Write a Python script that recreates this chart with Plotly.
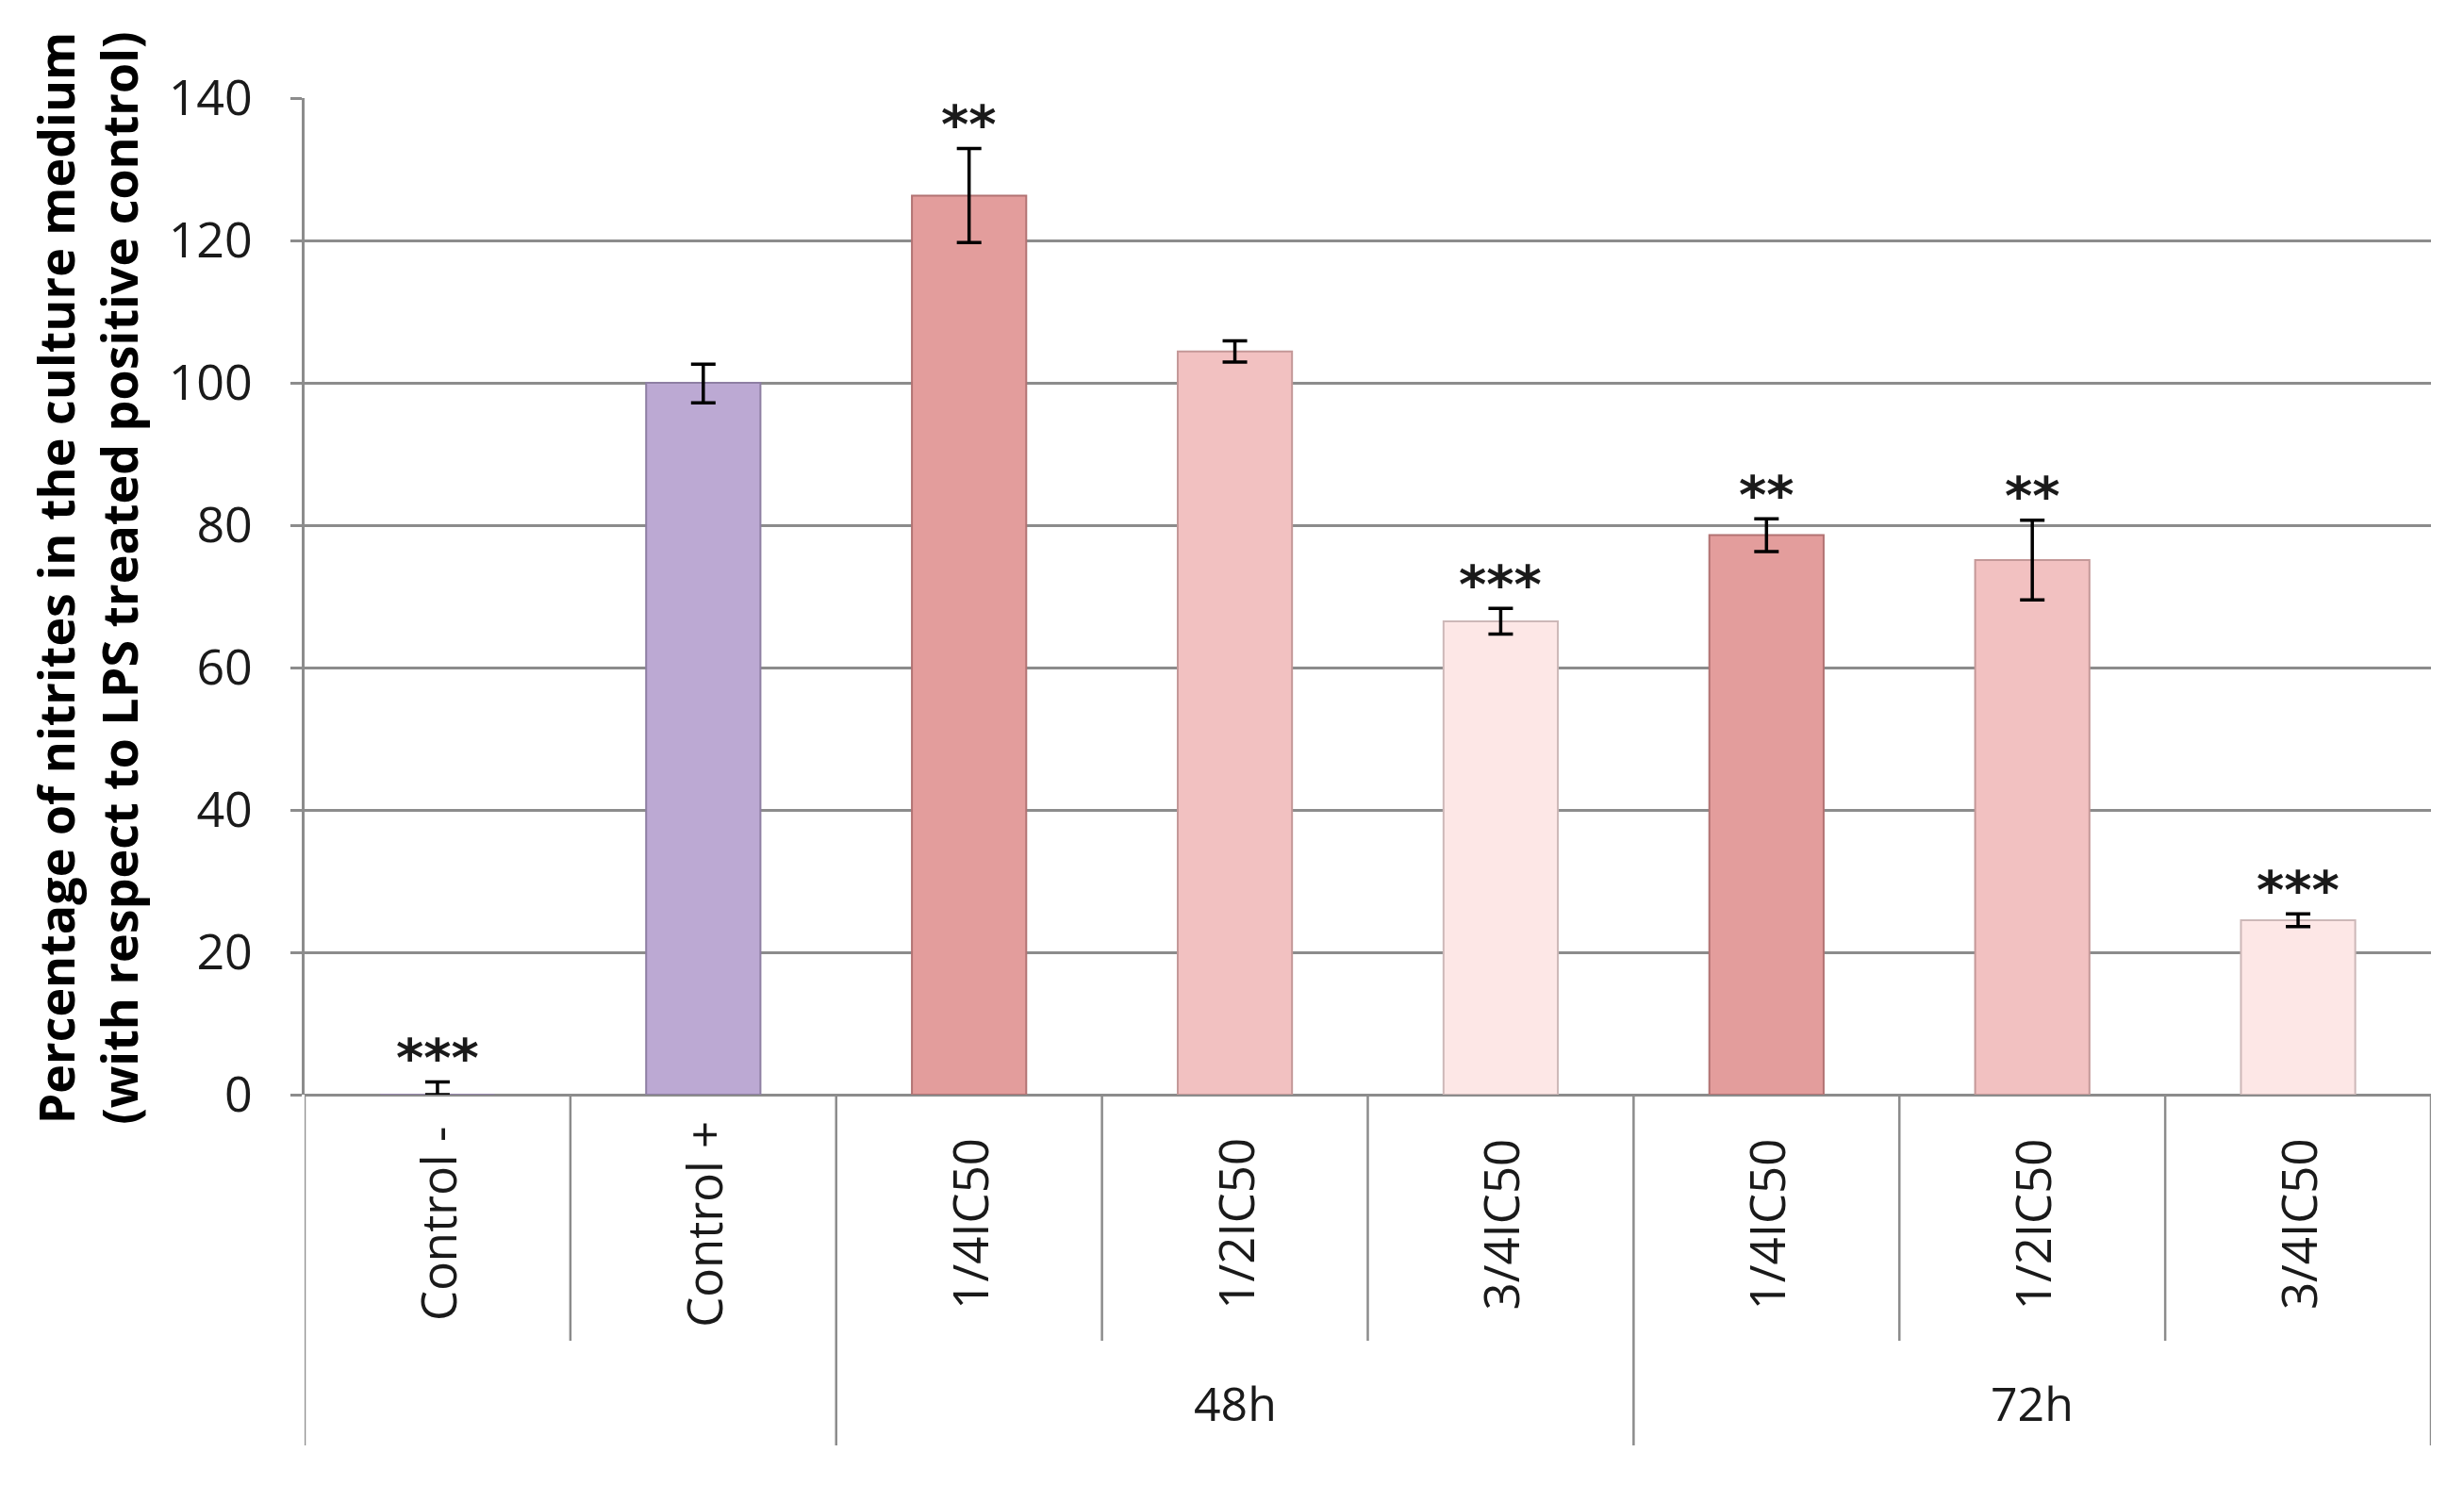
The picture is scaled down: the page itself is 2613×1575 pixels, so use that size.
"""Nitrite percentage bar chart with grouped category axis."""

import plotly.graph_objects as go

CATEGORIES = ["Control -", "Control +", "1/4IC50", "1/2IC50", "3/4IC50", "1/4IC50", "1/2IC50", "3/4IC50"]
GROUPS = ["", "", "48h", "48h", "48h", "72h", "72h", "72h"]
VALUES = [0, 100, 126.3, 104.4, 66.5, 78.6, 75.1, 24.5]
ERR_PLUS = [1.8, 2.6, 6.6, 1.5, 1.8, 2.3, 5.6, 0.9]
ERR_MINUS = [0, 2.8, 6.6, 1.5, 1.8, 2.3, 5.6, 0.9]
STARS = ["***", "", "**", "", "***", "**", "**", "***"]
BAR_COLORS = ["#BCA9D3", "#BCA9D3", "#E39D9C", "#F2C1C1", "#FDE7E6", "#E39D9C", "#F2C1C1", "#FDE7E6"]
EDGE_COLORS = ["#8E7FA3", "#8E7FA3", "#B27373", "#C49898", "#CDB8B8", "#B27373", "#C49898", "#CDB8B8"]
Y_TICKS = [0, 20, 40, 60, 80, 100, 120, 140]

GRID = "#8C8C8C"
NUM_FONT = "Liberation Sans Narrow, Open Sans, sans-serif"
TXT_FONT = "Open Sans, sans-serif"

# the page body adds an 8px margin, so the figure is shrunk by that much
W, H = 2613 - 8, 1575 - 8
M_L, M_R, M_T, M_B = 315, 35, 96, 414
PLOT_H = H - M_T - M_B

positions = list(range(len(CATEGORIES)))

fig = go.Figure(
    go.Bar(
        x=positions,
        y=VALUES,
        width=0.43,
        marker=dict(color=BAR_COLORS, line=dict(color=EDGE_COLORS, width=2)),
        error_y=dict(
            type="data",
            symmetric=False,
            array=ERR_PLUS,
            arrayminus=ERR_MINUS,
            color="black",
            thickness=3.5,
            width=13,
        ),
        hoverinfo="skip",
    )
)


def paper_y(px_below_axis):
    """Convert pixels below the x axis into paper y coordinates."""
    return -px_below_axis / PLOT_H


shapes = []
annotations = []

# category dividers: long ones where the group changes, short ones inside a group
for i in range(len(CATEGORIES) + 1):
    left = GROUPS[i - 1] if i > 0 else None
    right = GROUPS[i] if i < len(GROUPS) else None
    long_line = left is None or right is None or left != right
    shapes.append(
        dict(
            type="line",
            xref="x",
            yref="paper",
            x0=i - 0.5,
            x1=i - 0.5,
            y0=0,
            y1=paper_y(372 if long_line else 261),
            line=dict(color=GRID, width=2.5),
        )
    )

# rotated category labels
for i, label in enumerate(CATEGORIES):
    annotations.append(
        dict(
            text=label,
            x=i,
            y=paper_y(137),
            xref="x",
            yref="paper",
            textangle=-90,
            showarrow=False,
            xanchor="center",
            yanchor="middle",
            font=dict(family=TXT_FONT, size=51, color="#1a1a1a"),
        )
    )

# group labels centred under their categories
seen = []
for g in GROUPS:
    if g and g not in seen:
        seen.append(g)
for g in seen:
    idx = [i for i, name in enumerate(GROUPS) if name == g]
    annotations.append(
        dict(
            text=g,
            x=(idx[0] + idx[-1]) / 2,
            y=paper_y(327),
            xref="x",
            yref="paper",
            showarrow=False,
            xanchor="center",
            yanchor="middle",
            font=dict(family=NUM_FONT, size=50, color="#1a1a1a"),
        )
    )

# significance stars above the error bars
for i, stars in enumerate(STARS):
    if not stars:
        continue
    annotations.append(
        dict(
            text=stars,
            x=i,
            y=VALUES[i] + ERR_PLUS[i],
            xref="x",
            yref="y",
            yshift=26,
            showarrow=False,
            xanchor="center",
            yanchor="middle",
            font=dict(family="DejaVu Sans, sans-serif", size=56, color="#1a1a1a", weight="bold"),
        )
    )

annotations.append(
    dict(
        text="Percentage of nitrites in the culture medium<br>(with respect to LPS treated positive control)",
        x=-0.1023,
        y=0.518,
        xref="paper",
        yref="paper",
        textangle=-90,
        showarrow=False,
        xanchor="center",
        yanchor="middle",
        font=dict(family=TXT_FONT, size=52, color="black", weight="bold"),
    )
)

fig.update_layout(
    width=W,
    height=H,
    margin=dict(l=M_L, r=M_R, t=M_T, b=M_B),
    plot_bgcolor="white",
    paper_bgcolor="white",
    showlegend=False,
    shapes=shapes,
    annotations=annotations,
    xaxis=dict(
        range=[-0.5, len(CATEGORIES) - 0.5],
        showticklabels=False,
        showgrid=False,
        zeroline=False,
        showline=False,
        ticks="",
        fixedrange=True,
    ),
    yaxis=dict(
        range=[0, 140],
        tickvals=Y_TICKS,
        showgrid=True,
        gridcolor=GRID,
        gridwidth=3,
        zeroline=True,
        zerolinecolor=GRID,
        zerolinewidth=3,
        showline=True,
        linecolor=GRID,
        linewidth=2.5,
        ticks="outside",
        ticklen=12,
        tickwidth=3,
        tickcolor=GRID,
        ticklabelstandoff=30,
        tickfont=dict(family=NUM_FONT, size=52, color="#1a1a1a"),
        fixedrange=True,
    ),
)

fig.write_html("out.html")
